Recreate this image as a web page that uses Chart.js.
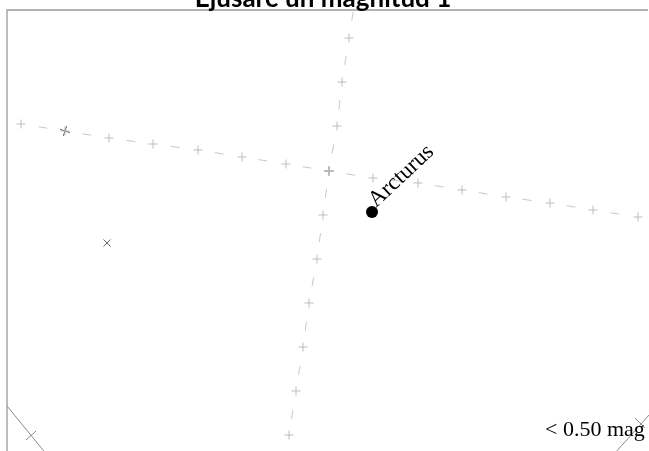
<!DOCTYPE html>
<html>
<head>
<meta charset="utf-8">
<script src="https://cdn.jsdelivr.net/npm/chart.js@4.4.1/dist/chart.umd.min.js"></script>
<style>
body{margin:0;background:#fff;}
#wrap{width:649px;height:451px;position:relative;}
</style>
</head>
<body>
<div id="wrap"><canvas id="sky"></canvas></div>
<script>
// chart units: 0..642 across, 0..441 down
var raLineX = [14, 58, 102, 146, 191, 235, 279, 322, 366, 411, 455, 499, 543, 586, 631];
var raLineY = [114, 121, 128, 134, 140, 147, 154, 161, 168, 173, 180, 187, 193, 200, 207];

var decLineX = [349, 342, 335, 330, 322, 316, 310, 302, 296, 289, 282];
var decLineY = [-16, 28, 72, 116, 161, 205, 249, 293, 337, 381, 425];

var markX = [58, 322, 100];
var markY = [121, 161, 233];

var starNames = ["Arcturus"];
var starX = [365];
var starY = [202];

var rimLeftX = [0, 45];
var rimLeftY = [396, 451];
var tickLeftX = [19, 29];
var tickLeftY = [430, 421];
var rimRightX = [651, 608];
var rimRightY = [395, 443];
var tickRightX = [628, 638];
var tickRightY = [408, 418];

var titulo = "Ejusare un magnitud 1";
var limite = "< 0.50 mag";

function pts(X, Y){
  var r = [];
  for (var i = 0; i < X.length; i++) r.push({x: X[i], y: Y[i]});
  return r;
}

var decRadius = decLineX.map(function(v, i){ return i == 0 ? 0 : 4.5; });

var extras = {
  id: "extras",
  afterDatasetsDraw: function(chart){
    var ctx = chart.ctx;
    ctx.save();
    // marco
    ctx.strokeStyle = "#999";
    ctx.lineWidth = 1.3;
    ctx.beginPath();
    ctx.moveTo(7, 451);
    ctx.lineTo(7, 10);
    ctx.lineTo(648, 10);
    ctx.stroke();
    // titulo
    ctx.fillStyle = "#000";
    ctx.font = "bold 26px Lato";
    ctx.textAlign = "center";
    ctx.textBaseline = "alphabetic";
    ctx.fillText(titulo, 323, 7);
    // etiqueta de estrella
    var m = chart.getDatasetMeta(3);
    m.data.forEach(function(p, i){
      ctx.save();
      ctx.translate(p.x + 4, p.y - 4);
      ctx.rotate(-43 * Math.PI / 180);
      ctx.font = "23px 'Liberation Serif'";
      ctx.textAlign = "left";
      ctx.fillText(starNames[i], 0, 0);
      ctx.restore();
    });
    ctx.font = "22px 'Liberation Serif'";
    ctx.textAlign = "left";
    ctx.fillText(limite, 545, 436);
    ctx.restore();
  }
};

new Chart(document.getElementById("sky"), {
  type: "scatter",
  data: {
    datasets: [
      {
        data: pts(raLineX, raLineY),
        showLine: true,
        borderColor: "#c8c8c8",
        borderWidth: 1,
        borderDash: [9, 35.5],
        borderDashOffset: 26.75,
        pointStyle: "cross",
        pointRadius: 4.5,
        pointBorderColor: "#bdbdbd",
        pointBorderWidth: 1
      },
      {
        data: pts(decLineX, decLineY),
        showLine: true,
        borderColor: "#c8c8c8",
        borderWidth: 1,
        borderDash: [9, 35.8],
        borderDashOffset: 26.9,
        pointStyle: "cross",
        pointRadius: decRadius,
        pointBorderColor: "#bdbdbd",
        pointBorderWidth: 1
      },
      {
        data: pts(markX, markY),
        showLine: false,
        pointStyle: ["cross", "cross", "crossRot"],
        pointRotation: [18, 0, 0],
        pointRadius: [5, 4.5, 5],
        pointBorderColor: ["#444", "#555", "#666"],
        pointBorderWidth: 1
      },
      {
        data: pts(starX, starY),
        showLine: false,
        pointStyle: "circle",
        pointRadius: 6,
        pointBackgroundColor: "#000",
        pointBorderColor: "#000",
        pointBorderWidth: 0
      },
      { data: pts(rimLeftX, rimLeftY), showLine: true, borderColor: "#8a8a8a", borderWidth: 1, pointRadius: 0 },
      { data: pts(tickLeftX, tickLeftY), showLine: true, borderColor: "#8a8a8a", borderWidth: 1, pointRadius: 0 },
      { data: pts(rimRightX, rimRightY), showLine: true, borderColor: "#8a8a8a", borderWidth: 1, pointRadius: 0 },
      { data: pts(tickRightX, tickRightY), showLine: true, borderColor: "#8a8a8a", borderWidth: 1, pointRadius: 0 }
    ]
  },
  options: {
    responsive: true,
    maintainAspectRatio: false,
    animation: false,
    layout: { autoPadding: false, padding: { left: 7, top: 10, right: 0, bottom: 0 } },
    plugins: { legend: { display: false }, tooltip: { enabled: false }, title: { display: false } },
    scales: {
      x: { type: "linear", min: 0, max: 642, display: false },
      y: { type: "linear", min: 0, max: 441, reverse: true, display: false }
    }
  },
  plugins: [extras]
});
</script>
</body>
</html>
